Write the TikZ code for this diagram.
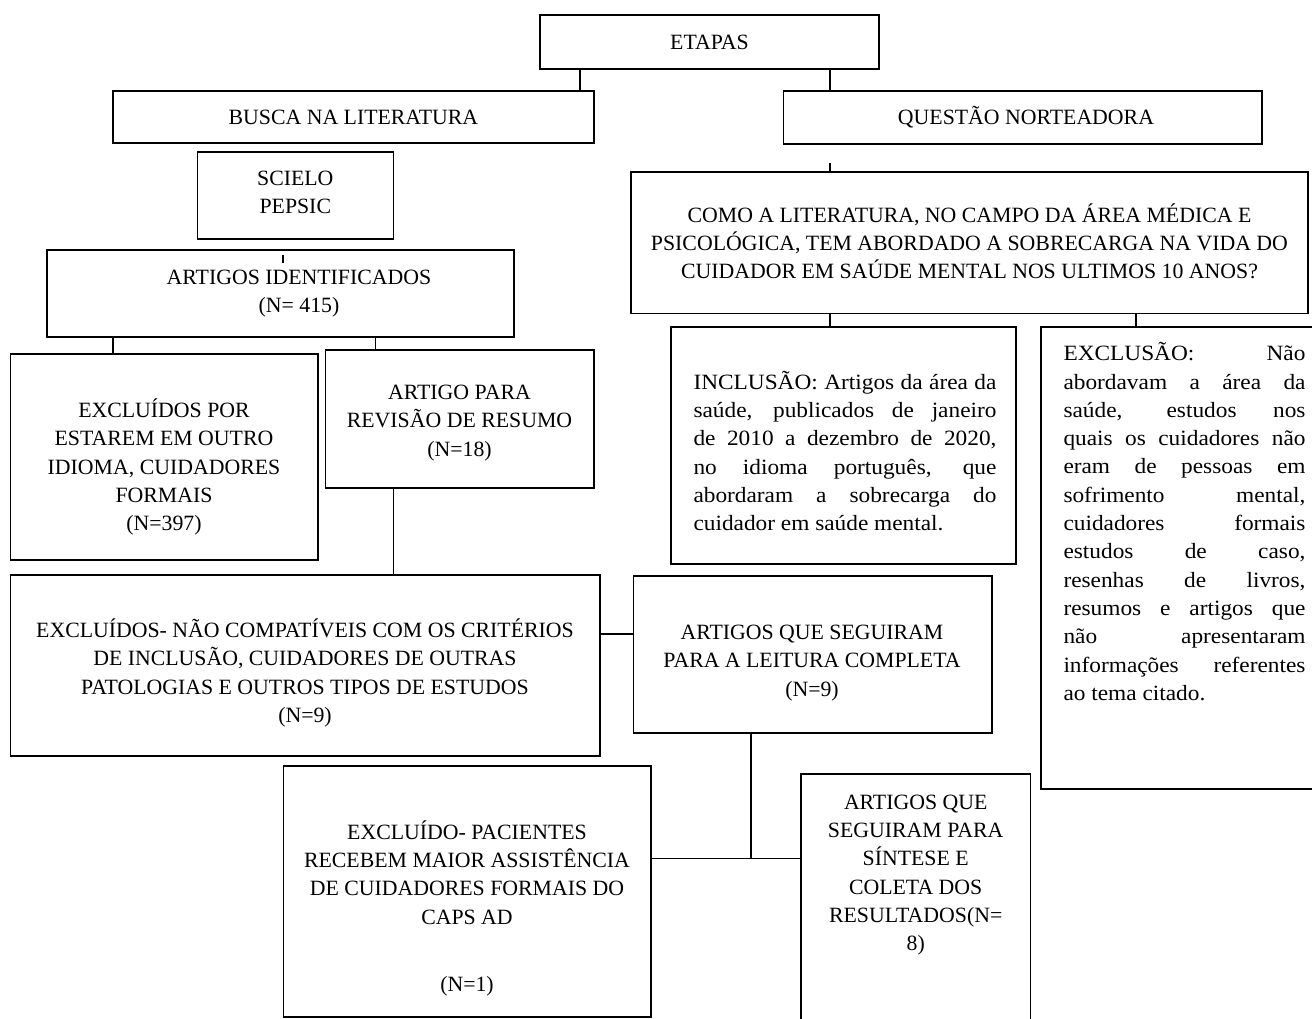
\documentclass[tikz,border=0pt]{standalone}
\usepackage{fontspec}
\setmainfont{Liberation Serif}
\newfontfamily\widefont{Liberation Serif}[FakeStretch=1.07]
\newcommand\tstrut{\rule{0pt}{21pt}}
\newcommand\jset{\tolerance=10000\relax\pretolerance=-1\relax\hyphenpenalty=10000\relax\hbadness=10000\relax}
\newcommand\BX[6]{%
  \node[box, minimum width={(#4-#2)*1pt}, minimum height={(#5-#3)*1pt}] (#1) at ({(#2+#4)/2},{(#3+#5)/2}) {};}
\tikzset{
  box/.style={draw, line width=1.8pt, inner sep=0pt, outer sep=0pt},
  conn/.style={line width=1.5pt},
  txt/.style={anchor=north, inner sep=0pt, align=center, font=\fontsize{21.8}{28.3}\selectfont},
  jtxt/.style={anchor=north west, inner sep=0pt, align=justify,
    font=\widefont\fontsize{21.8}{28.3}\selectfont},
}
\begin{document}
\begin{tikzpicture}[x=1pt,y=-1pt]
\useasboundingbox (0,0) rectangle (1312,1019);
\clip (0,0) rectangle (1312,1019);
\fill[white] (0,0) rectangle (1312,1019);
% boxes
\BX{etapas}{539.6}{15}{879.3}{69.3}{}
\BX{busca}{112.8}{90.7}{594}{143.3}{}
\BX{questao}{783.4}{90.7}{1262}{144}{}
\BX{scielo}{197.4}{152}{393.5}{239}{}
\BX{artid}{46.7}{250}{513.9}{337}{}
\BX{como}{631}{172}{1308}{313.5}{}
\BX{exclpor}{10.5}{354}{317.8}{560}{}
\BX{artpara}{325.4}{350}{594}{488.3}{}
\BX{incl}{671}{326.7}{1016}{564.3}{}
\BX{excl}{1040.7}{326.7}{1330}{789}{}
\BX{exclno}{10.5}{575}{600}{756}{}
\BX{leitura}{633.5}{576}{992}{733.3}{}
\BX{pacientes}{283.4}{765.7}{651.3}{1016.7}{}
\BX{sintese}{801}{774}{1030.5}{1040}{}
% texts
\node[txt] (t-etapas) at (709.5,28.2) {\tstrut ETAPAS};
\node[txt] (t-busca) at (353.4,103.2) {\tstrut BUSCA NA LITERATURA};
\node[txt] (t-questao) at (1026,103.2) {\tstrut QUESTÃO NORTEADORA};
\node[txt] (t-scielo) at (295.3,164.2) {\tstrut SCIELO\\PEPSIC};
\node[txt] (t-artid) at (299,263.2) {\tstrut ARTIGOS IDENTIFICADOS\\(N= 415)};
\node[txt] (t-como) at (969.5,201.2) {\tstrut COMO A LITERATURA, NO CAMPO DA ÁREA MÉDICA E\\PSICOLÓGICA, TEM ABORDADO A SOBRECARGA NA VIDA DO\\CUIDADOR EM SAÚDE MENTAL NOS ULTIMOS 10 ANOS?};
\node[txt] (t-exclpor) at (164,396.2) {\tstrut EXCLUÍDOS POR\\ESTAREM EM OUTRO\\IDIOMA, CUIDADORES\\FORMAIS\\(N=397)};
\node[txt] (t-artpara) at (459.5,378.2) {\tstrut ARTIGO PARA\\REVISÃO DE RESUMO\\(N=18)};
\node[jtxt, text width=303pt] (t-incl) at (693.3,367.9) {\jset\noindent\tstrut INCLUSÃO: Artigos da área da\linebreak saúde, publicados de janeiro\linebreak de 2010 a dezembro de 2020,\linebreak no idioma português, que\linebreak abordaram a sobrecarga do\linebreak cuidador em saúde mental.};
\node[jtxt, text width=242pt] (t-excl) at (1063.3,339.5) {\jset\noindent\tstrut EXCLUSÃO: Não\linebreak abordavam a área da\linebreak saúde, estudos nos\linebreak quais os cuidadores não\linebreak eram de pessoas em\linebreak sofrimento mental,\linebreak cuidadores formais\linebreak estudos de caso,\linebreak resenhas de livros,\linebreak resumos e artigos que\linebreak não apresentaram\linebreak informações referentes\linebreak ao tema citado.};
\node[txt] (t-exclno) at (305,616.2) {\tstrut EXCLUÍDOS- NÃO COMPATÍVEIS COM OS CRITÉRIOS\\DE INCLUSÃO, CUIDADORES DE OUTRAS\\PATOLOGIAS E OUTROS TIPOS DE ESTUDOS\\(N=9)};
\node[txt] (t-leitura) at (812,618.2) {\tstrut ARTIGOS QUE SEGUIRAM\\PARA A LEITURA COMPLETA\\(N=9)};
\node[txt] (t-pacientes) at (467,817.9) {\tstrut EXCLUÍDO- PACIENTES\\RECEBEM MAIOR ASSISTÊNCIA\\DE CUIDADORES FORMAIS DO\\CAPS AD\\[39pt](N=1)};
\node[txt] (t-sintese) at (915.7,787.9) {\tstrut ARTIGOS QUE\\SEGUIRAM PARA\\SÍNTESE E\\COLETA DOS\\RESULTADOS(N=\\8)};
% connector helper coordinates
\coordinate (xa) at (580,0);
\coordinate (xb) at (830,0);
\coordinate (xc) at (1136,0);
\coordinate (xd) at (112.8,0);
\coordinate (xe) at (375.5,0);
\coordinate (xf) at (393.6,0);
\coordinate (xg) at (751,0);
\coordinate (stubq) at (830,163);
\coordinate (stubs) at (283,255);
\coordinate (stubs2) at (283,263);
\coordinate (junc) at (751,858.3);
% connectors
\draw[conn] (etapas.south -| xa) -- (busca.north -| xa);
\draw[conn] (etapas.south -| xb) -- (questao.north -| xb);
\draw[conn] (stubq) -- (como.north -| stubq);
\draw[conn] (stubs) -- (stubs2);
\draw[conn] (artid.south -| xd) -- (exclpor.north -| xd);
\draw[conn] (artid.south -| xe) -- (artpara.north -| xe);
\draw[conn] (artpara.south -| xf) -- (exclno.north -| xf);
\draw[conn] (exclno.east |- 0,634) -- (leitura.west |- 0,634);
\draw[conn] (leitura.south -| xg) -- (junc);
\draw[conn] (pacientes.east |- junc) -- (sintese.west |- junc);
\draw[conn] (como.south -| xb) -- (incl.north -| xb);
\draw[conn] (como.south -| xc) -- (excl.north -| xc);
\end{tikzpicture}
\end{document}
